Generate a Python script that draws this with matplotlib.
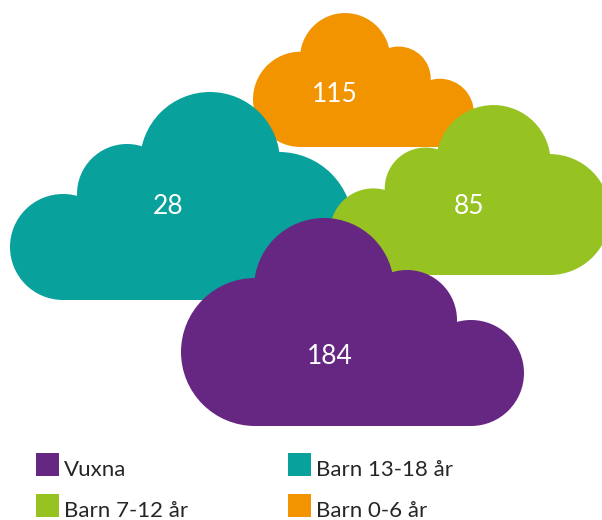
import matplotlib.pyplot as plt
from matplotlib.patches import Circle, Rectangle

categories = ['Vuxna', 'Barn 13-18 år', 'Barn 7-12 år', 'Barn 0-6 år']
values = [184, 28, 85, 115]
colors = ['#662782', '#09A19B', '#96C222', '#F29400']

# where each cloud sits (pixels): left, bottom, scale, mirrored, label x, label baseline
layout = {
    'Barn 0-6 år': (253, 147, 0.644, True, 335, 102),
    'Barn 13-18 år': (10, 300, 1.0, False, 168, 214),
    'Barn 7-12 år': (330, 275, 0.817, False, 469, 214),
    'Vuxna': (181, 426, 1.0, True, 330, 364),
}
draw_order = ['Barn 0-6 år', 'Barn 13-18 år', 'Barn 7-12 år', 'Vuxna']

# base cloud shape, measured up from its bottom-left corner
lobes = [(53, 53, 53), (117, 106, 50), (200, 138, 70), (269, 74, 74)]
W = 343

plt.rcParams['font.family'] = ['Lato', 'DejaVu Sans']


def cloud(ax, left, bottom, s, mirror, color):
    for cx, cy, r in lobes:
        if mirror:
            cx = W - cx
        ax.add_patch(Circle((left + cx * s, bottom - cy * s), r * s,
                            fc=color, ec='none'))
    x0, x1 = (W - 269, W - 53) if mirror else (53, 269)
    ax.add_patch(Rectangle((left + x0 * s, bottom - 100 * s), (x1 - x0) * s, 100 * s,
                           fc=color, ec='none'))


fig = plt.figure(figsize=(6.02, 5.2), dpi=100)
ax = fig.add_axes([0, 0, 1, 1])
ax.set_xlim(0, 602)
ax.set_ylim(520, 0)
ax.axis('off')

for name in draw_order:
    i = categories.index(name)
    left, bottom, s, mirror, lx, ly = layout[name]
    cloud(ax, left, bottom, s, mirror, colors[i])
    ax.text(lx, ly, str(values[i]), color='white', fontsize=19,
            ha='center', va='baseline')

# legend, two columns
for i, name in enumerate(categories):
    sx = [36, 288][i % 2]
    sy = [453, 494][i // 2]
    ax.add_patch(Rectangle((sx, sy), 23, 23, fc=colors[i], ec='none'))
    ax.text(sx + 28, sy + 23, name, color='#262626', fontsize=16,
            ha='left', va='baseline')

plt.savefig('out.png', dpi=100)
